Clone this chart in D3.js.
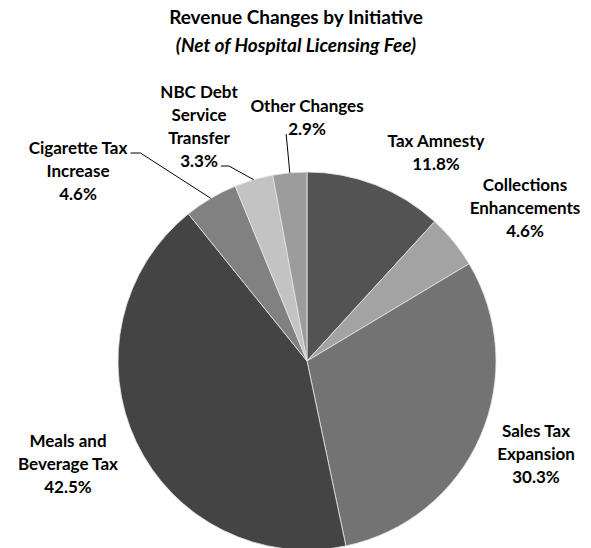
<!DOCTYPE html>
<html>
<head>
<meta charset="utf-8">
<script src="https://cdn.jsdelivr.net/npm/d3@7"></script>
<style>
  html, body { margin: 0; padding: 0; background: #fff; }
  svg { display: block; }
  text { font-family: Lato, "Open Sans", sans-serif; font-weight: 700; fill: #000; }
</style>
</head>
<body>
<svg id="chart" width="591" height="548"></svg>
<script>
// Revenue share by initiative, clockwise from 12 o'clock
const categories = [
  "Tax Amnesty",
  "Collections Enhancements",
  "Sales Tax Expansion",
  "Meals and Beverage Tax",
  "Cigarette Tax Increase",
  "NBC Debt Service Transfer",
  "Other Changes"
];
const shares = [11.8, 4.6, 30.3, 42.5, 4.6, 3.3, 2.9];

// Label text split into lines (the percentage line is appended from the data)
const labelLines = [
  ["Tax Amnesty"],
  ["Collections", "Enhancements"],
  ["Sales Tax", "Expansion"],
  ["Meals and", "Beverage Tax"],
  ["Cigarette Tax", "Increase"],
  ["NBC Debt", "Service", "Transfer"],
  ["Other Changes"]
];

// Grey fill for each slice
const palette = ["#535353", "#a3a3a3", "#737373", "#444444", "#818181", "#c3c3c3", "#9c9c9c"];

// Label placement: centre x and first-line centre y; optional leader line spec
const labelLayout = [
  { x: 436, y: 141 },
  { x: 525, y: 185 },
  { x: 536, y: 431 },
  { x: 68,  y: 441 },
  { x: 78,  y: 148, leader: { line: 0, side: "right", run: 10 } },
  { x: 199, y: 92,  leader: { line: 3, side: "right", run: 8 } },
  { x: 307, y: 106, leader: { line: 1, side: "left", run: 0 } }
];

const svg = d3.select("#chart");
const cx = 307, cy = 361, radius = 189;
const lineHeight = 23;

// Title
const title = svg.append("g").attr("text-anchor", "middle");
title.append("text")
  .attr("x", 296).attr("y", 24)
  .style("font-size", "19px")
  .text("Revenue Changes by Initiative");
title.append("text")
  .attr("x", 296).attr("y", 52)
  .style("font-size", "19px")
  .style("font-style", "italic")
  .text("(Net of Hospital Licensing Fee)");

// Pie
const pie = d3.pie().sort(null).value(d => d).startAngle(0).endAngle(2 * Math.PI);
const arcs = pie(shares);
const arc = d3.arc().innerRadius(0).outerRadius(radius);
const edge = d3.arc().innerRadius(radius).outerRadius(radius);

const pieG = svg.append("g").attr("transform", `translate(${cx},${cy})`);
pieG.selectAll("path")
  .data(arcs)
  .join("path")
  .attr("d", arc)
  .attr("fill", (d, i) => palette[i])
  .attr("stroke", "#e6e6e6")
  .attr("stroke-width", 0.8);

// Labels
const fmt = d3.format(".1f");
const labelsG = svg.append("g").attr("text-anchor", "middle").style("font-size", "17px");

arcs.forEach((a, i) => {
  const lay = labelLayout[i];
  const lines = labelLines[i].concat([fmt(shares[i]) + "%"]);
  const g = labelsG.append("g");
  const nodes = lines.map((t, k) =>
    g.append("text")
      .attr("x", lay.x)
      .attr("y", lay.y + k * lineHeight)
      .attr("dy", "0.35em")
      .text(t)
  );

  if (lay.leader) {
    const ln = nodes[lay.leader.line].node().getBBox();
    const y0 = lay.y + lay.leader.line * lineHeight + 5;
    const x0 = lay.leader.side === "right" ? ln.x + ln.width + 3 : ln.x - 2;
    const x1 = lay.leader.side === "right" ? x0 + lay.leader.run : x0 - lay.leader.run;
    const [ex, ey] = edge.centroid(a);
    svg.append("polyline")
      .attr("points", `${x0},${y0} ${x1},${y0} ${cx + ex},${cy + ey}`)
      .attr("fill", "none")
      .attr("stroke", "#000")
      .attr("stroke-width", 1);
  }
});
</script>
</body>
</html>
